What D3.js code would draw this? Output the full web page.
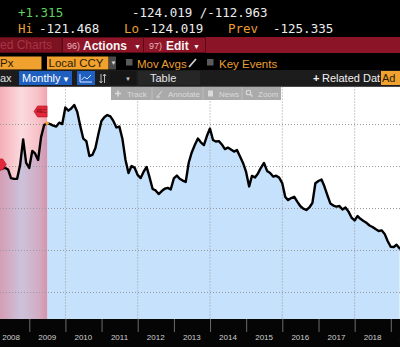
<!DOCTYPE html>
<html>
<head>
<meta charset="utf-8">
<script src="https://cdn.jsdelivr.net/npm/d3@7"></script>
<style>
  html, body { margin: 0; padding: 0; background: #000; overflow: hidden; }
  svg { display: block; }
</style>
</head>
<body>
<script>
// ---- data ---------------------------------------------------------------
// Monthly closes, month-end from Feb 2008 through Mar 2019
const firstMonth = { year: 2008, month: 1 };
const closes = [
  -86.4, -86.0, -85.6, -86.4, -90.5, -90.9, -90.8, -84.3, -72.1, -83.3, -85.7,
  -77.6, -78.8, -81.9, -71.0, -65.2, -64.4, -64.8, -65.5, -66.0, -64.1, -64.8,
  -56.9, -58.4, -57.4, -55.7, -58.9, -65.7, -71.7, -72.9, -80.0, -79.5, -76.2,
  -69.5, -63.3, -61.4, -60.5, -61.1, -63.3, -66.4, -66.0, -71.9, -81.9, -88.1,
  -84.8, -85.5, -89.0, -90.5, -87.6, -85.2, -90.2, -95.7, -96.4, -98.1, -96.7,
  -95.6, -95.2, -95.9, -90.7, -89.3, -90.8, -91.7, -92.4, -83.1, -78.3, -74.8,
  -71.7, -73.5, -74.8, -70.5, -66.9, -72.4, -73.1, -72.9, -74.5, -76.7, -76.0,
  -76.9, -77.9, -77.2, -80.2, -83.3, -87.6, -94.5, -89.5, -90.2, -88.3, -85.5,
  -83.3, -87.1, -88.1, -89.8, -89.4, -90.3, -92.9, -99.5, -101.0, -100.0, -99.4,
  -101.7, -103.8, -105.1, -105.7, -104.5, -102.4, -93.0, -91.9, -91.2, -94.3, -98.6,
  -102.6, -103.6, -104.1, -103.8, -105.5, -104.5, -106.5, -109.3, -110.7, -108.6, -109.9,
  -110.9, -111.8, -113.1, -113.8, -114.8, -115.7, -115.4, -117.1, -120.5, -123.2, -123.3,
  -122.3, -124.019
];
const axisYears = [2008, 2009, 2010, 2011, 2012, 2013, 2014, 2015, 2016, 2017, 2018, 2019];
const gridYears = [2010, 2012, 2014, 2016, 2018];
const gridValues = [-145, -125, -105, -85, -65];
const recessionSpan = ["2007-12-01", "2009-06-30"];
const recessionFlagValues = [-84.0, -58.8];

// quote header
const lastChange = "+1.315";
const bidAsk = ["-124.019", "-112.963"];
const dayHigh = "-121.468";
const dayLow = "-124.019";
const prevClose = "-125.335";

// ---- layout -------------------------------------------------------------
const W = 400, H = 347;
const plotTop = 86.5, plotBottom = 319;
const mono = "'DejaVu Sans Mono', monospace";
const sans = "'Liberation Sans', Arial, sans-serif";
const orange = "#eb9e32";

const svg = d3.select("body").append("svg")
  .attr("width", W).attr("height", H)
  .attr("viewBox", `0 0 ${W} ${H}`);

const defs = svg.append("defs");
defs.append("clipPath").attr("id", "plotClip")
  .append("rect").attr("x", 0).attr("y", plotTop).attr("width", W).attr("height", plotBottom - plotTop);

svg.append("rect").attr("width", W).attr("height", H).attr("fill", "#000");

// ---- quote header -------------------------------------------------------
const hdr = svg.append("g").attr("font-family", mono).attr("font-size", 12.5);
hdr.append("text").attr("x", 18).attr("y", 17).attr("fill", "#5ed25e").text(lastChange);
hdr.append("text").attr("x", 132).attr("y", 17).attr("fill", "#ececec")
  .text(`${bidAsk[0]} /${bidAsk[1]}`);
hdr.append("text").attr("x", 18).attr("y", 33).attr("fill", orange).text("Hi");
hdr.append("text").attr("x", 39).attr("y", 33).attr("fill", "#ececec").text(dayHigh);
hdr.append("text").attr("x", 124).attr("y", 33).attr("fill", orange).text("Lo");
hdr.append("text").attr("x", 143).attr("y", 33).attr("fill", "#ececec").text(dayLow);
hdr.append("text").attr("x", 228).attr("y", 33).attr("fill", orange).text("Prev");
hdr.append("text").attr("x", 273).attr("y", 33).attr("fill", "#ececec").text(prevClose);

// ---- red menu bar -------------------------------------------------------
const bar = svg.append("g");
bar.append("rect").attr("x", 0).attr("y", 37).attr("width", W).attr("height", 16).attr("fill", "#8b1426");
bar.append("rect").attr("x", -2).attr("y", 37.5).attr("width", 64).attr("height", 15)
  .attr("fill", "#7c1120").attr("stroke", "#5a0a16");
[[62, 81], [143, 62]].forEach(([bx, bw]) => {
  bar.append("rect").attr("x", bx + 0.5).attr("y", 37.5).attr("width", bw).attr("height", 15)
    .attr("fill", "#8e1527").attr("stroke", "#5a0a16");
});
bar.append("text").attr("x", 0).attr("y", 49).attr("font-family", sans).attr("font-size", 12)
  .attr("fill", "#a93446").text("ed Charts");
const menuItems = [
  { num: "96)", label: "Actions", nx: 67, lx: 83, ax: 134 },
  { num: "97)", label: "Edit", nx: 149, lx: 166, ax: 193 }
];
menuItems.forEach(m => {
  bar.append("text").attr("x", m.nx).attr("y", 49).attr("font-family", sans).attr("font-size", 9)
    .attr("fill", "#e6b4bb").text(m.num);
  bar.append("text").attr("x", m.lx).attr("y", 49.5).attr("font-family", sans).attr("font-size", 12)
    .attr("font-weight", 600).attr("fill", "#f4f4f4").text(m.label);
  bar.append("text").attr("x", m.ax).attr("y", 48.5).attr("font-family", sans).attr("font-size", 7)
    .attr("fill", "#f4f4f4").text("▼");
});

// ---- settings row -------------------------------------------------------
const row3 = svg.append("g").attr("font-family", sans).attr("font-size", 11.5);
row3.append("rect").attr("x", -2).attr("y", 56.5).attr("width", 43.5).attr("height", 13).attr("fill", "#f0a12e");
row3.append("text").attr("x", 0).attr("y", 67).attr("fill", "#2a1c05").text("Px");
row3.append("rect").attr("x", 47).attr("y", 56.5).attr("width", 61.5).attr("height", 13).attr("fill", "#f0a12e");
row3.append("text").attr("x", 48.5).attr("y", 67).attr("fill", "#2a1c05").text("Local CCY");
row3.append("rect").attr("x", 109).attr("y", 56.5).attr("width", 7).attr("height", 13).attr("fill", "#4a4a4a");
row3.append("text").attr("x", 110.5).attr("y", 65).attr("font-size", 6).attr("fill", "#ddd").text("▼");
row3.append("rect").attr("x", 126).attr("y", 59).attr("width", 6.5).attr("height", 6.5).attr("fill", "#5a5a5a");
row3.append("text").attr("x", 137).attr("y", 67.5).attr("fill", orange).text("Mov Avgs");
row3.append("path").attr("d", "M189,67 L196,59").attr("stroke", "#cfcfcf").attr("stroke-width", 1.8);
row3.append("rect").attr("x", 207).attr("y", 59).attr("width", 6.5).attr("height", 6.5).attr("fill", "#5a5a5a");
row3.append("text").attr("x", 219).attr("y", 67.5).attr("fill", orange).text("Key Events");

// ---- chart toolbar row --------------------------------------------------
const row4 = svg.append("g").attr("font-family", sans).attr("font-size", 11);
row4.append("rect").attr("x", 0).attr("y", 70).attr("width", W).attr("height", 16.5).attr("fill", "#1c1c1c");
row4.append("text").attr("x", 0).attr("y", 82).attr("fill", "#e0e0e0").text("ax");
row4.append("rect").attr("x", 19).attr("y", 71).attr("width", 53).attr("height", 14).attr("fill", "#1f5fbf");
row4.append("text").attr("x", 22).attr("y", 82).attr("fill", "#fff").text("Monthly");
row4.append("text").attr("x", 62).attr("y", 81.5).attr("font-size", 8).attr("fill", "#fff").text("▼");
row4.append("rect").attr("x", 77).attr("y", 71).attr("width", 18).attr("height", 14).attr("fill", "#1f5fbf");
row4.append("path").attr("d", "M80,82 L80,74 M80,82 L92,82 M81.5,80 L84.5,77 L87,79 L91,75")
  .attr("fill", "none").attr("stroke", "#dfe8ff").attr("stroke-width", 1);
row4.append("path").attr("d", "M101,74 L101,83 M99.5,81 L101,83 L102.5,81 M104.5,83 L104.5,74 M103,76 L104.5,74 L106,76")
  .attr("fill", "none").attr("stroke", "#bbb").attr("stroke-width", 1);
row4.append("rect").attr("x", 110).attr("y", 71).attr("width", 26).attr("height", 14).attr("fill", "#161616");
row4.append("text").attr("x", 125).attr("y", 80.5).attr("font-size", 6).attr("fill", "#ccc").text("▼");
row4.append("rect").attr("x", 138).attr("y", 71).attr("width", 62).attr("height", 14).attr("fill", "#262626");
row4.append("text").attr("x", 150).attr("y", 82).attr("fill", "#e6e6e6").text("Table");
row4.append("text").attr("x", 313).attr("y", 82).attr("fill", "#f0f0f0").attr("font-weight", "bold").text("+");
row4.append("text").attr("x", 322).attr("y", 82).attr("fill", "#f0f0f0").text("Related Dat");
row4.append("rect").attr("x", 381).attr("y", 71).attr("width", 20).attr("height", 14).attr("fill", "#f0a12e");
row4.append("text").attr("x", 382).attr("y", 82).attr("fill", "#2a1c05").text("Ad");

// ---- scales -------------------------------------------------------------
const x = d3.scaleTime()
  .domain([new Date(2009, 0, 1), new Date(2019, 0, 1)])
  .range([29.3, 390.8]);
const y = d3.scaleLinear().domain([-125, -65]).range([250.5, 124.5]);

const series = closes.map((v, i) => ({
  date: new Date(firstMonth.year, firstMonth.month + i + 1, 0),
  value: v
}));

// ---- plot ---------------------------------------------------------------
const plot = svg.append("g").attr("clip-path", "url(#plotClip)");
plot.append("rect").attr("x", 0).attr("y", plotTop).attr("width", W).attr("height", plotBottom - plotTop)
  .attr("fill", "#ffffff");

const area = d3.area()
  .x(d => x(d.date)).y0(plotBottom).y1(d => y(d.value));
plot.append("path").datum(series).attr("d", area).attr("fill", "#c6e1fb");

// recession band
const grad = defs.append("linearGradient").attr("id", "recGrad")
  .attr("x1", 0).attr("x2", 1).attr("y1", 0).attr("y2", 0);
[[0, 0.5], [0.2, 0.42], [0.55, 0.2], [0.85, 0.34], [1, 0.5]].forEach(([o, a]) => {
  grad.append("stop").attr("offset", o).attr("stop-color", "#e8465a").attr("stop-opacity", a);
});
const recStart = new Date(recessionSpan[0]), recEnd = new Date(recessionSpan[1]);
plot.append("rect")
  .attr("x", x(recStart)).attr("y", plotTop)
  .attr("width", x(recEnd) - x(recStart)).attr("height", plotBottom - plotTop)
  .attr("fill", "url(#recGrad)");

// dotted grid
plot.append("g").selectAll("line").data(gridValues).join("line")
  .attr("x1", 0).attr("x2", W)
  .attr("y1", d => y(d)).attr("y2", d => y(d))
  .attr("stroke", "#9a9a9a").attr("stroke-width", 1).attr("stroke-dasharray", "1,2");
plot.append("g").selectAll("line").data(gridYears).join("line")
  .attr("x1", d => x(new Date(d, 0, 1))).attr("x2", d => x(new Date(d, 0, 1)))
  .attr("y1", plotTop).attr("y2", plotBottom)
  .attr("stroke", "#9a9a9a").attr("stroke-width", 1).attr("stroke-dasharray", "1,2");

// price line
const line = d3.line().x(d => x(d.date)).y(d => y(d.value));
plot.append("path").datum(series).attr("d", line)
  .attr("fill", "none").attr("stroke", "#000").attr("stroke-width", 2.4)
  .attr("stroke-linejoin", "round").attr("stroke-linecap", "round");

// recession event flags
function flag(g, xEdge, yc, dir, label) {
  const bodyW = 9.5, tip = 3.6, h = 11;
  let pts;
  if (dir > 0) {
    pts = [[xEdge, yc - h / 2], [xEdge + bodyW, yc - h / 2], [xEdge + bodyW + tip, yc],
           [xEdge + bodyW, yc + h / 2], [xEdge, yc + h / 2]];
  } else {
    pts = [[xEdge, yc - h / 2], [xEdge - bodyW, yc - h / 2], [xEdge - bodyW - tip, yc],
           [xEdge - bodyW, yc + h / 2], [xEdge, yc + h / 2]];
  }
  g.append("polygon").attr("points", pts.map(p => p.join(",")).join(" "))
    .attr("fill", "#e3273a").attr("stroke", "#b01020").attr("stroke-width", 0.6);
  if (label) {
    g.append("text").attr("x", xEdge - bodyW / 2 - 1).attr("y", yc + 1.8)
      .attr("text-anchor", "middle").attr("font-family", sans).attr("font-size", 4.6)
      .attr("fill", "#6a0a12").text(label);
  }
}
flag(plot, x(recStart) + 3.2, y(recessionFlagValues[0]), 1, "");
flag(plot, x(recEnd), y(recessionFlagValues[1]), -1, "REC");

const endPoint = series.find(d => d.date.getFullYear() === 2009 && d.date.getMonth() === 5);
plot.append("circle").attr("cx", x(endPoint.date)).attr("cy", y(endPoint.value))
  .attr("r", 1.7).attr("fill", "#f0a030");

// floating chart tools
const tools = svg.append("g").attr("font-family", sans).attr("font-size", 8);
tools.append("rect").attr("x", 111).attr("y", 87).attr("width", 170).attr("height", 13)
  .attr("fill", "#a3a3a3").attr("opacity", 0.92);
[152, 203, 242].forEach(sx => {
  tools.append("line").attr("x1", sx).attr("x2", sx).attr("y1", 87).attr("y2", 100)
    .attr("stroke", "#bdbdbd").attr("stroke-width", 1);
});
const toolCol = "#dadada";
tools.append("path").attr("d", "M115,93.5 L121,93.5 M118,90.5 L118,96.5")
  .attr("stroke", toolCol).attr("stroke-width", 1.6);
tools.append("text").attr("x", 127).attr("y", 97).attr("fill", toolCol).text("Track");
tools.append("path").attr("d", "M157,97 L162,91 M156.5,97 L160,97")
  .attr("stroke", toolCol).attr("stroke-width", 1).attr("fill", "none");
tools.append("text").attr("x", 168).attr("y", 97).attr("fill", toolCol).text("Annotate");
tools.append("rect").attr("x", 208).attr("y", 90.5).attr("width", 5).attr("height", 6).attr("fill", toolCol);
tools.append("text").attr("x", 219).attr("y", 97).attr("fill", toolCol).text("News");
tools.append("circle").attr("cx", 248.5).attr("cy", 92.5).attr("r", 2.3)
  .attr("fill", "none").attr("stroke", toolCol).attr("stroke-width", 1.1);
tools.append("path").attr("d", "M250.2,94.2 L252.5,96.5").attr("stroke", toolCol).attr("stroke-width", 1.4);
tools.append("text").attr("x", 258).attr("y", 97).attr("fill", toolCol).text("Zoom");

// ---- time axis ----------------------------------------------------------
const axisG = svg.append("g").attr("transform", `translate(0,${plotBottom})`);
axisG.append("rect").attr("x", 0).attr("y", 0).attr("width", W).attr("height", H - plotBottom).attr("fill", "#050505");
axisG.call(d3.axisBottom(x)
    .tickValues(axisYears.map(yr => new Date(yr, 0, 1)))
    .tickSize(13).tickFormat(""))
  .call(g => g.select(".domain").remove())
  .call(g => g.selectAll(".tick line").attr("stroke", "#6c6c6c"));
axisG.selectAll("text.yr").data(axisYears).join("text")
  .attr("class", "yr")
  .attr("x", d => x(new Date(d, 6, 1)))
  .attr("y", 20.5)
  .attr("text-anchor", "middle")
  .attr("font-family", sans).attr("font-size", 8)
  .attr("fill", "#cfcfcf")
  .text(d => d);
</script>
</body>
</html>
